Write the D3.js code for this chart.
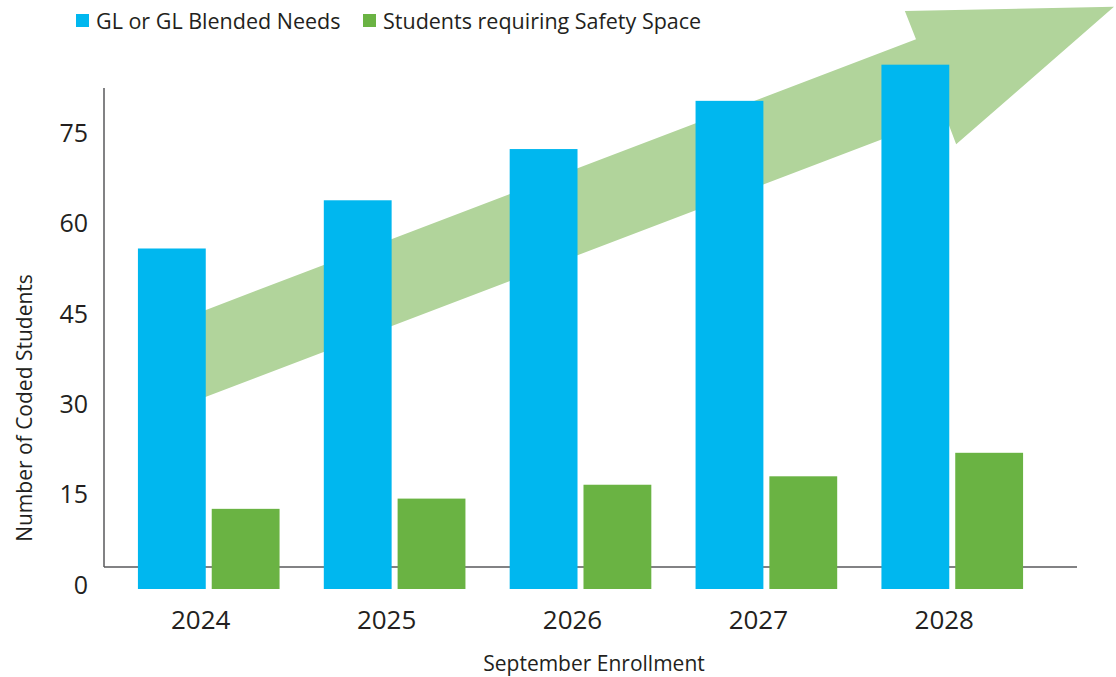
<!DOCTYPE html>
<html>
<head>
<meta charset="utf-8">
<script src="https://cdn.jsdelivr.net/npm/d3@7"></script>
<style>
  body { margin: 0; background: #fff; }
  text { font-family: "Open Sans", "Noto Sans", sans-serif; fill: #231f20; }
</style>
</head>
<body>
<div id="chart"></div>
<script>
// Chart data
const years = ["2024", "2025", "2026", "2027", "2028"];
const glNeeds = [56.5, 64.5, 73, 81, 87];
const safetySpace = [13.3, 15, 17.3, 18.7, 22.6];
const seriesNames = ["GL or GL Blended Needs", "Students requiring Safety Space"];
const yTicks = [0, 15, 30, 45, 60, 75];

// Trend arrow outline as [category index, value]
const trendArrow = [
  [-0.05, 45.9], [3.805, 91.2], [3.745, 95.9], [4.87, 96.6],
  [4.021, 73.8], [3.962, 78.6], [-0.05, 31.5]
];

// Colors
const COLOR_BLUE = "#00b7ef";
const COLOR_GREEN = "#6ab343";
const COLOR_ARROW = "#b1d49b";
const COLOR_AXIS = "#58595b";

const width = 1116;
const height = 677;

const svg = d3.select("#chart")
  .append("svg")
  .attr("width", width)
  .attr("height", height);

const x = d3.scaleBand()
  .domain(years)
  .range([104, 1057])
  .paddingInner(0.238)
  .paddingOuter(0.1825);

const x1 = d3.scaleBand()
  .domain([0, 1])
  .range([0, x.bandwidth()])
  .paddingInner(0.081);

const y = d3.scaleLinear()
  .domain([0, 75])
  .range([589, 137]);

// index -> pixel, centers of the year groups
const xIdx = d3.scaleLinear()
  .domain([0, years.length - 1])
  .range([x(years[0]) + x.bandwidth() / 2, x(years[years.length - 1]) + x.bandwidth() / 2]);

// trend arrow behind everything
svg.append("path")
  .attr("d", d3.line().x(d => xIdx(d[0])).y(d => y(d[1]))(trendArrow) + "Z")
  .attr("fill", COLOR_ARROW);

// axes lines
const axisTop = 88;
const baseY = y(0) - 22;
svg.append("line")
  .attr("x1", 104).attr("x2", 104)
  .attr("y1", axisTop).attr("y2", baseY)
  .attr("stroke", COLOR_AXIS).attr("stroke-width", 1.5);
svg.append("line")
  .attr("x1", 104).attr("x2", 1077)
  .attr("y1", baseY).attr("y2", baseY)
  .attr("stroke", COLOR_AXIS).attr("stroke-width", 1.5);

// bars
const groups = svg.selectAll(".group")
  .data(years)
  .enter()
  .append("g")
  .attr("class", "group")
  .attr("transform", d => `translate(${x(d)},0)`);

groups.append("rect")
  .attr("x", x1(0))
  .attr("width", x1.bandwidth())
  .attr("y", (d, i) => y(glNeeds[i]))
  .attr("height", (d, i) => y(0) - y(glNeeds[i]))
  .attr("fill", COLOR_BLUE);

groups.append("rect")
  .attr("x", x1(1))
  .attr("width", x1.bandwidth())
  .attr("y", (d, i) => y(safetySpace[i]))
  .attr("height", (d, i) => y(0) - y(safetySpace[i]))
  .attr("fill", COLOR_GREEN);

// y tick labels
svg.selectAll(".ytick")
  .data(yTicks)
  .enter()
  .append("text")
  .attr("class", "ytick")
  .attr("x", 88)
  .attr("y", d => y(d) - 4)
  .attr("dy", "0.35em")
  .attr("text-anchor", "end")
  .attr("font-size", 25)
  .text(d => d);

// x tick labels
svg.selectAll(".xtick")
  .data(years)
  .enter()
  .append("text")
  .attr("class", "xtick")
  .attr("x", d => x(d) + x.bandwidth() / 2 - 8)
  .attr("y", 629)
  .attr("text-anchor", "middle")
  .attr("font-size", 26)
  .text(d => d);

// axis titles
svg.append("text")
  .attr("x", 594)
  .attr("y", 671)
  .attr("text-anchor", "middle")
  .attr("font-size", 21)
  .text("September Enrollment");

svg.append("text")
  .attr("transform", "translate(31.5,408) rotate(-90)")
  .attr("text-anchor", "middle")
  .attr("font-size", 21)
  .text("Number of Coded Students");

// legend
const legendX = [76, 363];
const legendColors = [COLOR_BLUE, COLOR_GREEN];
const legend = svg.selectAll(".legend")
  .data(seriesNames)
  .enter()
  .append("g")
  .attr("class", "legend")
  .attr("transform", (d, i) => `translate(${legendX[i]},0)`);

legend.append("rect")
  .attr("x", 0).attr("y", 14)
  .attr("width", 13).attr("height", 13)
  .attr("fill", (d, i) => legendColors[i]);

legend.append("text")
  .attr("x", 20)
  .attr("y", 29)
  .attr("font-size", 21.5)
  .text(d => d);
</script>
</body>
</html>
